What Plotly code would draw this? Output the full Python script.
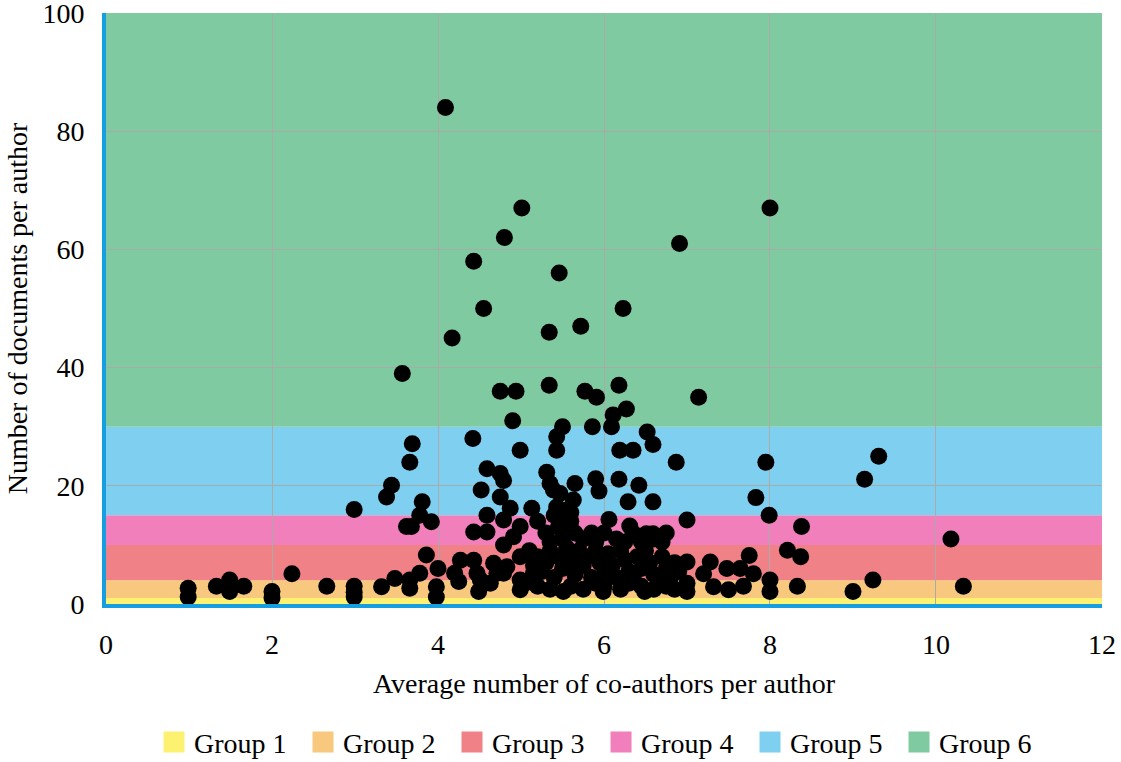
import plotly.graph_objects as go

# ---- data ----
group_names = ["Group 1", "Group 2", "Group 3", "Group 4", "Group 5", "Group 6"]
group_lower = [0, 1, 4, 10, 15, 30]
group_upper = [1, 4, 10, 15, 30, 100]
group_colors = ["#fdf171", "#f7c87d", "#f08186", "#f17fbc", "#7fcff0", "#7fcaa0"]

coauthors = [
    0.99, 0.99, 1.33, 1.49, 1.49, 1.66, 2.0, 2.0, 2.24, 2.66, 2.99, 2.99, 2.99,
    2.99, 3.32, 3.38, 3.44, 3.48, 3.57, 3.62, 3.66, 3.66, 3.66, 3.68, 3.69, 3.78, 3.78,
    3.81, 3.86, 3.92, 3.98, 3.98, 4.0,
    4.09, 4.17, 4.2, 4.25, 4.27, 4.42, 4.43, 4.43, 4.43, 4.47, 4.49, 4.51, 4.52, 4.55,
    4.59, 4.59, 4.59, 4.63, 4.67, 4.71, 4.75, 4.75, 4.75, 4.79, 4.79, 4.79, 4.79, 4.8,
    4.83, 4.87, 4.9, 4.91, 4.94, 4.99, 4.99, 4.99, 4.99, 4.99, 5.01,
    5.13, 5.15, 5.17, 5.31, 5.34, 5.34, 5.35, 5.39, 5.43, 5.43, 5.43, 5.46, 5.47, 5.5,
    5.51, 5.55, 5.63, 5.65, 5.72, 5.77, 5.86, 5.9, 5.91, 5.94, 5.99, 6.06, 6.09, 6.11,
    6.18, 6.18, 6.19, 6.23, 6.27, 6.29, 6.31, 6.35, 6.42, 6.49, 6.51, 6.52, 6.59, 6.59,
    6.59, 6.75, 6.87, 6.91, 7.0, 7.0, 7.0, 7.0,
    5.2, 5.3, 5.45, 5.5, 5.6, 5.65, 5.75, 5.85, 5.9, 6.0, 6.15, 6.25, 6.35, 6.45, 6.6,
    6.7, 5.35, 5.55, 5.4, 5.6,
    5.1, 5.2, 5.3, 5.35, 5.45, 5.5, 5.55, 5.6, 5.7, 5.75, 5.8, 5.9, 5.95, 6.0, 6.05,
    6.1, 6.2, 6.25, 6.3, 6.4, 6.45, 6.5, 6.55, 6.6, 6.7, 6.75, 6.85, 6.9, 5.25, 5.4,
    5.65, 5.85, 6.15, 6.35, 6.65, 6.8, 5.15,
    5.2, 5.35, 5.6, 5.75, 5.9, 6.0, 6.2, 6.3, 6.45, 6.6, 6.75, 6.85, 5.05,
    7.14, 7.2, 7.28, 7.32, 7.48, 7.5, 7.64, 7.68, 7.75, 7.8, 7.83, 7.95, 7.99, 8.0,
    8.0, 8.0, 8.21, 8.33, 8.37, 8.38, 9.0, 9.14, 9.24, 9.31, 10.18, 10.33,
]
documents = [
    2.65, 1.2, 3.0, 4.05, 2.1, 3.0, 2.1, 1.0, 5.1, 3.0, 3.0, 2.0, 1.2,
    16.0, 2.9, 18.1, 20.1, 4.3, 39, 13.1, 2.65, 4.05, 24.0, 13.1, 27.1, 5.2, 15.0,
    17.3, 8.3, 13.9, 2.9, 1.2, 6.0,
    84, 45, 5.2, 3.8, 7.4, 28, 58, 12.2, 7.4, 5.2, 2.1, 4.05, 19.3, 50,
    22.9, 15, 12.2, 3.5, 6.9, 5.2, 22.1, 18.1, 36, 20.9, 14.2, 10, 5.2, 62,
    6.3, 16.2, 31, 11.4, 36, 26, 13.1, 8.0, 4.05, 2.4, 67,
    16.2, 5.2, 7.7, 22.3, 46, 37, 20.4, 19.3, 28.3, 26, 16.4, 56, 18.7, 30,
    2.1, 15.9, 17.6, 20.4, 47, 36, 30, 21.2, 35, 19.1, 2.1, 14.3, 30, 32,
    37, 21.1, 26, 50, 33, 17.3, 13.2, 26, 20.1, 2.1, 11.9, 29.1, 27, 17.3,
    11.9, 12.0, 24, 61, 14.2, 7.1, 3.5, 2.1,
    14, 12, 13, 11, 14, 12, 11, 12, 10.5, 12, 11, 10.5, 12, 10.5, 11,
    10.5, 10.5, 13.5, 15, 15.5,
    9, 8, 7, 9, 8, 6, 9.5, 7.5, 9, 6.5, 8, 9, 7, 5, 8.5,
    6.5, 9, 7.5, 5.5, 8, 6, 9, 7, 5, 8, 6, 7, 5.5, 5.5, 4.5,
    5, 4.5, 4.5, 4.5, 4, 4.5, 6.5,
    3, 2.5, 3, 2.5, 3.5, 3, 2.5, 3.5, 3, 2.5, 3, 2.5, 3.5,
    35, 5.1, 7.1, 2.9, 6.0, 2.4, 6.0, 3.0, 8.2, 5.1, 18, 24, 15, 67,
    4.05, 2.1, 9.1, 3.0, 8.0, 13.1, 2.1, 21.1, 4.05, 25, 11, 3.0,
]

x_ticks = [0, 2, 4, 6, 8, 10, 12]
y_ticks = [0, 20, 40, 60, 80, 100]

FONT = "Liberation Serif, Times New Roman, serif"
AXIS_BLUE = "#169fe0"

fig = go.Figure()

# background bands (below grid lines)
for lo, hi, col in zip(group_lower, group_upper, group_colors):
    fig.add_shape(type="rect", xref="x", yref="y", x0=0, x1=12, y0=lo, y1=hi,
                  fillcolor=col, line=dict(width=0), layer="below")

# legend entries for the groups
for name, col in zip(group_names, group_colors):
    fig.add_trace(go.Scatter(
        x=[None], y=[None], mode="markers", name=name,
        marker=dict(symbol="square", size=16, color=col,
                    line=dict(color=col, width=5)),
        showlegend=True))

fig.add_trace(go.Scatter(
    x=coauthors, y=documents, mode="markers", showlegend=False,
    marker=dict(size=17, color="black", line=dict(width=0))))

fig.update_layout(
    width=1121, height=762,
    margin=dict(l=106, r=19, t=13, b=158, autoexpand=False),
    paper_bgcolor="white", plot_bgcolor="white",
    font=dict(family=FONT, size=28, color="black"),
    legend=dict(orientation="h", x=0.497, xanchor="center", y=-0.234, yanchor="middle",
                font=dict(family=FONT, size=28), entrywidth=104, entrywidthmode="pixels",
                itemwidth=30, tracegroupgap=0),
    xaxis=dict(range=[0, 12.0001], tickvals=x_ticks, showgrid=True, gridcolor="#aaaaaa",
               gridwidth=1, zeroline=False, showline=True, linecolor=AXIS_BLUE,
               linewidth=4, ticks="", ticklabelstandoff=12, ticklabeloverflow="allow",
               title=dict(text="Average number of co-authors per author", standoff=16,
                          font=dict(family=FONT, size=28))),
    yaxis=dict(range=[0, 100.001], tickvals=y_ticks, showgrid=True, gridcolor="#aaaaaa",
               gridwidth=1, zeroline=False, showline=True, linecolor=AXIS_BLUE,
               linewidth=4, ticks="", ticklabelstandoff=12, ticklabeloverflow="allow",
               title=dict(text="Number of documents per author", standoff=8,
                          font=dict(family=FONT, size=28))),
)

fig.write_html("out.html", config={"displayModeBar": False},
               post_script="document.body.style.margin='0';document.body.style.overflow='hidden';")
